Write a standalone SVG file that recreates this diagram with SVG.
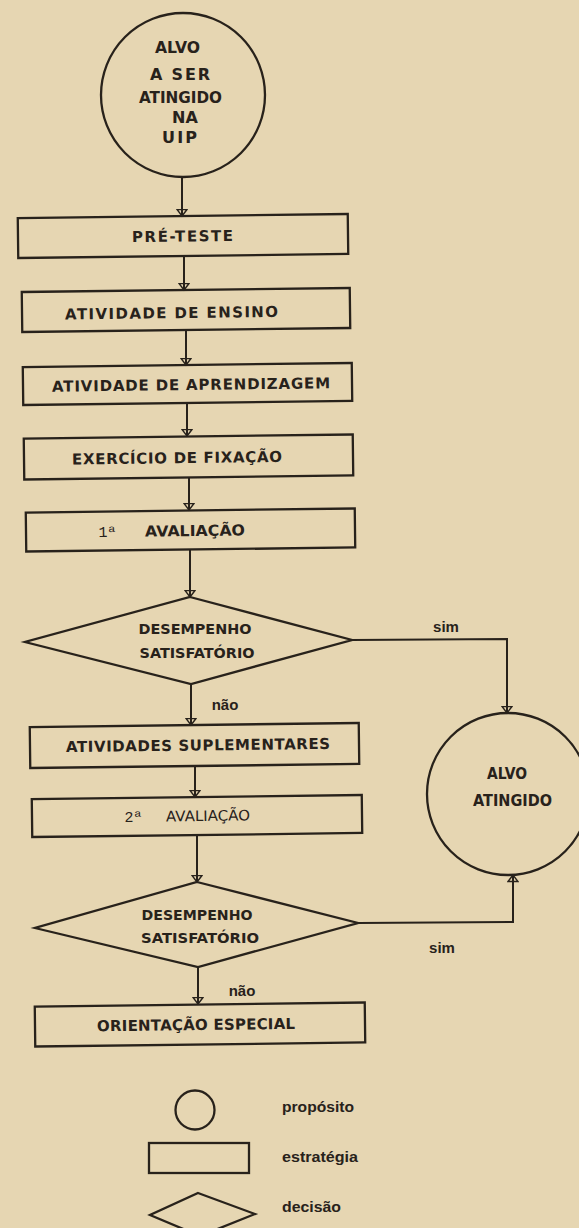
<svg xmlns="http://www.w3.org/2000/svg" width="579" height="1228" viewBox="0 0 579 1228">
  <defs>
    <style>
      .bg { fill: #e6d6b2; }
      .shape { fill: none; stroke: #28221b; stroke-width: 2.3; stroke-linejoin: miter; }
      .line { fill: none; stroke: #28221b; stroke-width: 2; }
      .t { font-family: "DejaVu Sans", "Liberation Sans", Arial, sans-serif; font-weight: bold; font-size: 15px; fill: #28221b; text-anchor: middle; }
      .td { font-family: "DejaVu Sans", "Liberation Sans", Arial, sans-serif; font-weight: bold; font-size: 14.5px; fill: #28221b; text-anchor: middle; }
      .tc { font-family: "DejaVu Sans", "Liberation Sans", Arial, sans-serif; font-weight: bold; font-size: 16px; fill: #28221b; text-anchor: middle; }
      .tl { font-family: "DejaVu Sans", "Liberation Sans", Arial, sans-serif; font-weight: normal; font-size: 14.5px; fill: #28221b; text-anchor: middle; }
      .m { font-family: "Liberation Mono", "Courier New", monospace; font-size: 15px; fill: #28221b; text-anchor: middle; }
      .lab { font-family: "Liberation Sans", Arial, sans-serif; font-weight: bold; font-size: 15px; fill: #28221b; text-anchor: middle; }
      .leg { font-family: "Liberation Sans", Arial, sans-serif; font-weight: bold; font-size: 15.5px; fill: #28221b; }
    </style>
    <marker id="ah" viewBox="0 -6 9 12" refX="7.5" refY="0" markerWidth="9" markerHeight="12" markerUnits="userSpaceOnUse" orient="auto">
      <path d="M1,-5 L7.5,0 L1,5 Z" fill="none" stroke="#28221b" stroke-width="1.4"/>
    </marker>
  </defs>

  <rect class="bg" x="0" y="0" width="579" height="1228"/>

  <g id="connectors">
    <path class="line" d="M182,177 L182,216" marker-end="url(#ah)"/>
    <path class="line" d="M184,256 L184,290" marker-end="url(#ah)"/>
    <path class="line" d="M186,330 L186,365" marker-end="url(#ah)"/>
    <path class="line" d="M187,403 L187,436" marker-end="url(#ah)"/>
    <path class="line" d="M189,477 L189,510" marker-end="url(#ah)"/>
    <path class="line" d="M190,549 L190,597" marker-end="url(#ah)"/>
    <path class="line" d="M191,684 L191,725" marker-end="url(#ah)"/>
    <path class="line" d="M195,766 L195,797" marker-end="url(#ah)"/>
    <path class="line" d="M197,835 L197,882" marker-end="url(#ah)"/>
    <path class="line" d="M198,967 L198,1004" marker-end="url(#ah)"/>
    <path class="line" d="M352,640 L507,639 L507,713" marker-end="url(#ah)"/>
    <path class="line" d="M358,923 L513,922 L513,875" marker-end="url(#ah)"/>
    <text class="lab" x="446" y="632">sim</text>
    <text class="lab" x="225" y="710">não</text>
    <text class="lab" x="442" y="953">sim</text>
    <text class="lab" x="242" y="996">não</text>
  </g>

  <g id="alvo-uip">
    <circle class="shape" cx="183" cy="95" r="82"/>
    <text class="tc" x="177.5" y="53" textLength="45" lengthAdjust="spacingAndGlyphs">ALVO</text>
    <text class="tc" x="180" y="80" textLength="60" lengthAdjust="spacing">A SER</text>
    <text class="tc" x="180.5" y="103" textLength="83" lengthAdjust="spacingAndGlyphs">ATINGIDO</text>
    <text class="tc" x="185" y="123">NA</text>
    <text class="tc" x="179.5" y="143" textLength="35" lengthAdjust="spacing">UIP</text>
  </g>

  <g id="pre-teste" transform="rotate(-0.7 183 236)">
    <rect class="shape" x="18" y="216" width="330" height="40"/>
    <text class="t" x="182.5" y="241.5" textLength="101" lengthAdjust="spacing">PRÉ-TESTE</text>
  </g>

  <g id="atividade-ensino" transform="rotate(-0.7 186 310)">
    <rect class="shape" x="22" y="290" width="328" height="40"/>
    <text class="t" x="171.5" y="318" textLength="213" lengthAdjust="spacing">ATIVIDADE DE ENSINO</text>
  </g>

  <g id="atividade-aprendizagem" transform="rotate(-0.7 187.5 384)">
    <rect class="shape" x="23" y="365" width="329" height="38"/>
    <text class="t" x="191" y="390" textLength="278" lengthAdjust="spacing">ATIVIDADE DE APRENDIZAGEM</text>
  </g>

  <g id="exercicio-fixacao" transform="rotate(-0.7 188.5 457)">
    <rect class="shape" x="24" y="436.5" width="329" height="41"/>
    <text class="t" x="177" y="463" textLength="210" lengthAdjust="spacing">EXERCÍCIO DE FIXAÇÃO</text>
  </g>

  <g id="avaliacao-1" transform="rotate(-0.7 190.5 530)">
    <rect class="shape" x="26" y="510.5" width="329" height="39"/>
    <text class="m" x="107.5" y="536">1ª</text>
    <text class="t" x="195" y="536" textLength="100" lengthAdjust="spacingAndGlyphs">AVALIAÇÃO</text>
  </g>

  <g id="decisao-1">
    <polygon class="shape" points="190,597 352,640 191,684 25,642"/>
    <text class="td" x="195" y="633.5" textLength="113" lengthAdjust="spacingAndGlyphs">DESEMPENHO</text>
    <text class="td" x="197" y="657.5" textLength="115" lengthAdjust="spacingAndGlyphs">SATISFATÓRIO</text>
  </g>

  <g id="atividades-suplementares" transform="rotate(-0.7 194.5 745.5)">
    <rect class="shape" x="30" y="725" width="329" height="41"/>
    <text class="t" x="198" y="750.5" textLength="264" lengthAdjust="spacing">ATIVIDADES SUPLEMENTARES</text>
  </g>

  <g id="avaliacao-2" transform="rotate(-0.7 197 816)">
    <rect class="shape" x="32" y="797" width="330" height="38"/>
    <text class="m" x="133.5" y="821">2ª</text>
    <text class="tl" x="208" y="821" textLength="84" lengthAdjust="spacingAndGlyphs">AVALIAÇÃO</text>
  </g>

  <g id="decisao-2">
    <polygon class="shape" points="197,882 358,923 198,967 35,928"/>
    <text class="td" x="197" y="919.5" textLength="111" lengthAdjust="spacingAndGlyphs">DESEMPENHO</text>
    <text class="td" x="200" y="942.5" textLength="118" lengthAdjust="spacingAndGlyphs">SATISFATÓRIO</text>
  </g>

  <g id="alvo-atingido">
    <circle class="shape" cx="508" cy="794" r="81"/>
    <text class="tc" x="507" y="779" textLength="40" lengthAdjust="spacingAndGlyphs">ALVO</text>
    <text class="tc" x="512.5" y="806" textLength="79" lengthAdjust="spacingAndGlyphs">ATINGIDO</text>
  </g>

  <g id="orientacao-especial" transform="rotate(-0.7 200 1024.5)">
    <rect class="shape" x="35" y="1004.5" width="330" height="40"/>
    <text class="t" x="196" y="1030" textLength="198" lengthAdjust="spacing">ORIENTAÇÃO ESPECIAL</text>
  </g>

  <g id="legenda">
    <circle class="shape" cx="195" cy="1110" r="19.5"/>
    <text class="leg" x="282" y="1112" textLength="72" lengthAdjust="spacingAndGlyphs">propósito</text>
    <rect class="shape" x="149" y="1143" width="100" height="30"/>
    <text class="leg" x="282" y="1162" textLength="76" lengthAdjust="spacingAndGlyphs">estratégia</text>
    <polygon class="shape" points="198,1193 255,1214 200,1236 150,1215"/>
    <text class="leg" x="282" y="1212" textLength="59" lengthAdjust="spacingAndGlyphs">decisão</text>
  </g>
</svg>
